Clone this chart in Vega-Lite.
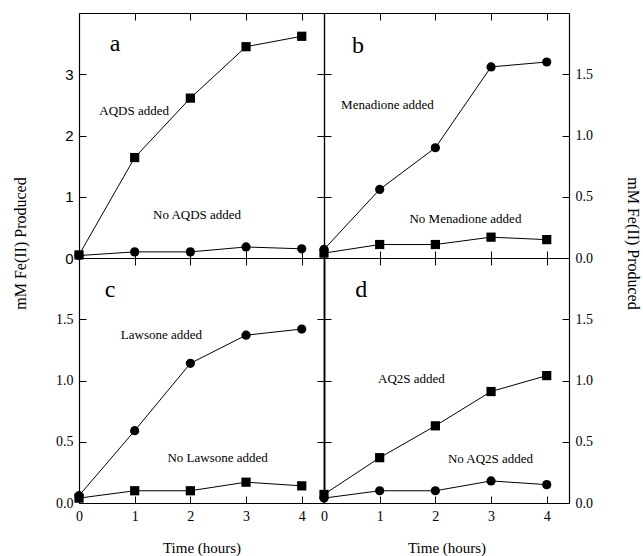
{
  "$schema": "https://vega.github.io/schema/vega-lite/v6.json",
  "background": "white",
  "padding": {"left": 12, "top": 12, "right": 5, "bottom": 5},
  "columns": 2,
  "spacing": 0,
  "bounds": "flush",
  "resolve": {"scale": {"shape": "independent"}},
  "config": {
    "view": {"stroke": null},
    "axis": {
      "grid": false,
      "domainColor": "black",
      "domainWidth": 1.2,
      "tickColor": "black",
      "tickWidth": 1,
      "tickSize": -7,
      "labelPadding": 13,
      "labelFont": "Liberation Serif",
      "labelFontSize": 14,
      "labelColor": "black",
      "labelFlush": false,
      "labelOverlap": false,
      "titleFont": "Liberation Serif",
      "titleFontWeight": "normal",
      "titleColor": "black",
      "titleFontSize": 16
    }
  },
  "datasets": {
    "pts": [
      {"panel": "a", "series": "AQDS added", "time": 0, "fe": 0.05},
      {"panel": "a", "series": "AQDS added", "time": 1, "fe": 1.64},
      {"panel": "a", "series": "AQDS added", "time": 2, "fe": 2.61},
      {"panel": "a", "series": "AQDS added", "time": 3, "fe": 3.45},
      {"panel": "a", "series": "AQDS added", "time": 4, "fe": 3.62},
      {"panel": "a", "series": "No AQDS added", "time": 0, "fe": 0.04},
      {"panel": "a", "series": "No AQDS added", "time": 1, "fe": 0.10},
      {"panel": "a", "series": "No AQDS added", "time": 2, "fe": 0.10},
      {"panel": "a", "series": "No AQDS added", "time": 3, "fe": 0.18},
      {"panel": "a", "series": "No AQDS added", "time": 4, "fe": 0.15},
      {"panel": "b", "series": "Menadione added", "time": 0, "fe": 0.07},
      {"panel": "b", "series": "Menadione added", "time": 1, "fe": 0.56},
      {"panel": "b", "series": "Menadione added", "time": 2, "fe": 0.90},
      {"panel": "b", "series": "Menadione added", "time": 3, "fe": 1.56},
      {"panel": "b", "series": "Menadione added", "time": 4, "fe": 1.60},
      {"panel": "b", "series": "No Menadione added", "time": 0, "fe": 0.04},
      {"panel": "b", "series": "No Menadione added", "time": 1, "fe": 0.11},
      {"panel": "b", "series": "No Menadione added", "time": 2, "fe": 0.11},
      {"panel": "b", "series": "No Menadione added", "time": 3, "fe": 0.17},
      {"panel": "b", "series": "No Menadione added", "time": 4, "fe": 0.15},
      {"panel": "c", "series": "Lawsone added", "time": 0, "fe": 0.06},
      {"panel": "c", "series": "Lawsone added", "time": 1, "fe": 0.59},
      {"panel": "c", "series": "Lawsone added", "time": 2, "fe": 1.14},
      {"panel": "c", "series": "Lawsone added", "time": 3, "fe": 1.37},
      {"panel": "c", "series": "Lawsone added", "time": 4, "fe": 1.42},
      {"panel": "c", "series": "No Lawsone added", "time": 0, "fe": 0.04},
      {"panel": "c", "series": "No Lawsone added", "time": 1, "fe": 0.10},
      {"panel": "c", "series": "No Lawsone added", "time": 2, "fe": 0.10},
      {"panel": "c", "series": "No Lawsone added", "time": 3, "fe": 0.17},
      {"panel": "c", "series": "No Lawsone added", "time": 4, "fe": 0.14},
      {"panel": "d", "series": "AQ2S added", "time": 0, "fe": 0.07},
      {"panel": "d", "series": "AQ2S added", "time": 1, "fe": 0.37},
      {"panel": "d", "series": "AQ2S added", "time": 2, "fe": 0.63},
      {"panel": "d", "series": "AQ2S added", "time": 3, "fe": 0.91},
      {"panel": "d", "series": "AQ2S added", "time": 4, "fe": 1.04},
      {"panel": "d", "series": "No AQ2S added", "time": 0, "fe": 0.04},
      {"panel": "d", "series": "No AQ2S added", "time": 1, "fe": 0.10},
      {"panel": "d", "series": "No AQ2S added", "time": 2, "fe": 0.10},
      {"panel": "d", "series": "No AQ2S added", "time": 3, "fe": 0.18},
      {"panel": "d", "series": "No AQ2S added", "time": 4, "fe": 0.15}
    ],
    "notes": [
      {"panel": "a", "kind": "letter", "label": "a", "time": 0.65, "fe": 3.49},
      {"panel": "a", "kind": "note", "label": "AQDS added", "time": 0.99, "fe": 2.40},
      {"panel": "a", "kind": "note", "label": "No AQDS added", "time": 2.12, "fe": 0.70},
      {"panel": "b", "kind": "letter", "label": "b", "time": 0.61, "fe": 1.73},
      {"panel": "b", "kind": "note", "label": "Menadione added", "time": 1.14, "fe": 1.25},
      {"panel": "b", "kind": "note", "label": "No Menadione added", "time": 2.54, "fe": 0.32},
      {"panel": "c", "kind": "letter", "label": "c", "time": 0.56, "fe": 1.74},
      {"panel": "c", "kind": "note", "label": "Lawsone added", "time": 1.48, "fe": 1.37},
      {"panel": "c", "kind": "note", "label": "No Lawsone added", "time": 2.49, "fe": 0.37},
      {"panel": "d", "kind": "letter", "label": "d", "time": 0.67, "fe": 1.74},
      {"panel": "d", "kind": "note", "label": "AQ2S added", "time": 1.57, "fe": 1.01},
      {"panel": "d", "kind": "note", "label": "No AQ2S added", "time": 2.99, "fe": 0.36}
    ]
  },
  "concat": [
    {
      "width": 245, "height": 245,
      "resolve": {"axis": {"x": "independent", "y": "independent"}},
      "layer": [
        {
          "data": {"name": "pts"},
          "transform": [{"filter": "datum.panel === 'a'"}],
          "mark": {"type": "line", "color": "black", "strokeWidth": 1},
          "encoding": {
            "x": {"field": "time", "type": "quantitative", "scale": {"domain": [0, 4.4], "nice": false},
                  "axis": {"orient": "bottom", "values": [0, 1, 2, 3, 4], "labels": false, "title": null}},
            "y": {"field": "fe", "type": "quantitative", "scale": {"domain": [0, 4], "nice": false},
                  "axis": {"orient": "left", "values": [0, 1, 2, 3], "labelFont": "Liberation Sans", "labelFontSize": 15,
                           "title": "mM Fe(II) Produced", "titleX": -59, "titleY": 230, "titleAngle": -90,
                           "titleBaseline": "middle", "titleAlign": "center"}},
            "detail": {"field": "series"}
          }
        },
        {
          "data": {"name": "pts"},
          "transform": [{"filter": "datum.panel === 'a'"}],
          "mark": {"type": "point", "filled": true, "color": "black", "opacity": 1, "size": 85},
          "encoding": {
            "x": {"field": "time", "type": "quantitative", "scale": {"domain": [0, 4.4], "nice": false},
                  "axis": {"orient": "top", "values": [0, 1, 2, 3, 4], "labels": false, "title": null}},
            "y": {"field": "fe", "type": "quantitative", "scale": {"domain": [0, 4], "nice": false},
                  "axis": {"orient": "right", "values": [0, 1, 2, 3, 4], "labels": false, "title": null}},
            "shape": {"field": "series", "scale": {"domain": ["AQDS added", "No AQDS added"], "range": ["square", "circle"]}, "legend": null}
          }
        },
        {
          "data": {"name": "notes"},
          "transform": [{"filter": "datum.panel === 'a' && datum.kind === 'note'"}],
          "mark": {"type": "text", "font": "Liberation Serif", "fontSize": 13, "color": "black"},
          "encoding": {
            "x": {"field": "time", "type": "quantitative", "axis": null},
            "y": {"field": "fe", "type": "quantitative", "axis": null},
            "text": {"field": "label"}
          }
        },
        {
          "data": {"name": "notes"},
          "transform": [{"filter": "datum.panel === 'a' && datum.kind === 'letter'"}],
          "mark": {"type": "text", "font": "Liberation Serif", "fontSize": 24, "color": "black"},
          "encoding": {
            "x": {"field": "time", "type": "quantitative", "axis": null},
            "y": {"field": "fe", "type": "quantitative", "axis": null},
            "text": {"field": "label"}
          }
        }
      ]
    },
    {
      "width": 245, "height": 245,
      "resolve": {"axis": {"x": "independent", "y": "independent"}},
      "layer": [
        {
          "data": {"name": "pts"},
          "transform": [{"filter": "datum.panel === 'b'"}],
          "mark": {"type": "line", "color": "black", "strokeWidth": 1},
          "encoding": {
            "x": {"field": "time", "type": "quantitative", "scale": {"domain": [0, 4.4], "nice": false},
                  "axis": {"orient": "bottom", "values": [0, 1, 2, 3, 4], "labels": false, "title": null}},
            "y": {"field": "fe", "type": "quantitative", "scale": {"domain": [0, 2], "nice": false},
                  "axis": {"orient": "left", "values": [0, 0.5, 1, 1.5], "labels": false, "title": null}},
            "detail": {"field": "series"}
          }
        },
        {
          "data": {"name": "pts"},
          "transform": [{"filter": "datum.panel === 'b'"}],
          "mark": {"type": "point", "filled": true, "color": "black", "opacity": 1, "size": 85},
          "encoding": {
            "x": {"field": "time", "type": "quantitative", "scale": {"domain": [0, 4.4], "nice": false},
                  "axis": {"orient": "top", "values": [0, 1, 2, 3, 4], "labels": false, "title": null}},
            "y": {"field": "fe", "type": "quantitative", "scale": {"domain": [0, 2], "nice": false},
                  "axis": {"orient": "right", "values": [0, 0.5, 1, 1.5], "format": ".1f",
                           "title": "mM Fe(II) Produced", "titleX": 63, "titleY": 230, "titleAngle": 90,
                           "titleBaseline": "middle", "titleAlign": "center"}},
            "shape": {"field": "series", "scale": {"domain": ["Menadione added", "No Menadione added"], "range": ["circle", "square"]}, "legend": null}
          }
        },
        {
          "data": {"name": "notes"},
          "transform": [{"filter": "datum.panel === 'b' && datum.kind === 'note'"}],
          "mark": {"type": "text", "font": "Liberation Serif", "fontSize": 13, "color": "black"},
          "encoding": {
            "x": {"field": "time", "type": "quantitative", "axis": null},
            "y": {"field": "fe", "type": "quantitative", "axis": null},
            "text": {"field": "label"}
          }
        },
        {
          "data": {"name": "notes"},
          "transform": [{"filter": "datum.panel === 'b' && datum.kind === 'letter'"}],
          "mark": {"type": "text", "font": "Liberation Serif", "fontSize": 24, "color": "black"},
          "encoding": {
            "x": {"field": "time", "type": "quantitative", "axis": null},
            "y": {"field": "fe", "type": "quantitative", "axis": null},
            "text": {"field": "label"}
          }
        }
      ]
    },
    {
      "width": 245, "height": 245,
      "resolve": {"axis": {"x": "independent", "y": "independent"}},
      "layer": [
        {
          "data": {"name": "pts"},
          "transform": [{"filter": "datum.panel === 'c'"}],
          "mark": {"type": "line", "color": "black", "strokeWidth": 1},
          "encoding": {
            "x": {"field": "time", "type": "quantitative", "scale": {"domain": [0, 4.4], "nice": false},
                  "axis": {"orient": "bottom", "values": [0, 1, 2, 3, 4],
                           "title": "Time (hours)", "titleFontSize": 15, "titleX": 122.5, "titleY": 44, "titleBaseline": "middle"}},
            "y": {"field": "fe", "type": "quantitative", "scale": {"domain": [0, 2], "nice": false},
                  "axis": {"orient": "left", "values": [0, 0.5, 1, 1.5], "format": ".1f", "title": null}},
            "detail": {"field": "series"}
          }
        },
        {
          "data": {"name": "pts"},
          "transform": [{"filter": "datum.panel === 'c'"}],
          "mark": {"type": "point", "filled": true, "color": "black", "opacity": 1, "size": 85},
          "encoding": {
            "x": {"field": "time", "type": "quantitative", "scale": {"domain": [0, 4.4], "nice": false},
                  "axis": {"orient": "top", "values": [0, 1, 2, 3, 4], "labels": false, "title": null}},
            "y": {"field": "fe", "type": "quantitative", "scale": {"domain": [0, 2], "nice": false},
                  "axis": {"orient": "right", "values": [0, 0.5, 1, 1.5], "labels": false, "title": null}},
            "shape": {"field": "series", "scale": {"domain": ["Lawsone added", "No Lawsone added"], "range": ["circle", "square"]}, "legend": null}
          }
        },
        {
          "data": {"name": "notes"},
          "transform": [{"filter": "datum.panel === 'c' && datum.kind === 'note'"}],
          "mark": {"type": "text", "font": "Liberation Serif", "fontSize": 13, "color": "black"},
          "encoding": {
            "x": {"field": "time", "type": "quantitative", "axis": null},
            "y": {"field": "fe", "type": "quantitative", "axis": null},
            "text": {"field": "label"}
          }
        },
        {
          "data": {"name": "notes"},
          "transform": [{"filter": "datum.panel === 'c' && datum.kind === 'letter'"}],
          "mark": {"type": "text", "font": "Liberation Serif", "fontSize": 24, "color": "black"},
          "encoding": {
            "x": {"field": "time", "type": "quantitative", "axis": null},
            "y": {"field": "fe", "type": "quantitative", "axis": null},
            "text": {"field": "label"}
          }
        }
      ]
    },
    {
      "width": 245, "height": 245,
      "resolve": {"axis": {"x": "independent", "y": "independent"}},
      "layer": [
        {
          "data": {"name": "pts"},
          "transform": [{"filter": "datum.panel === 'd'"}],
          "mark": {"type": "line", "color": "black", "strokeWidth": 1},
          "encoding": {
            "x": {"field": "time", "type": "quantitative", "scale": {"domain": [0, 4.4], "nice": false},
                  "axis": {"orient": "bottom", "values": [0, 1, 2, 3, 4],
                           "title": "Time (hours)", "titleFontSize": 15, "titleX": 122.5, "titleY": 44, "titleBaseline": "middle"}},
            "y": {"field": "fe", "type": "quantitative", "scale": {"domain": [0, 2], "nice": false},
                  "axis": {"orient": "left", "values": [0, 0.5, 1, 1.5], "labels": false, "title": null, "domainWidth": 1.8}},
            "detail": {"field": "series"}
          }
        },
        {
          "data": {"name": "pts"},
          "transform": [{"filter": "datum.panel === 'd'"}],
          "mark": {"type": "point", "filled": true, "color": "black", "opacity": 1, "size": 85},
          "encoding": {
            "x": {"field": "time", "type": "quantitative", "scale": {"domain": [0, 4.4], "nice": false},
                  "axis": {"orient": "top", "values": [0, 1, 2, 3, 4], "labels": false, "title": null}},
            "y": {"field": "fe", "type": "quantitative", "scale": {"domain": [0, 2], "nice": false},
                  "axis": {"orient": "right", "values": [0, 0.5, 1, 1.5], "format": ".1f", "title": null}},
            "shape": {"field": "series", "scale": {"domain": ["AQ2S added", "No AQ2S added"], "range": ["square", "circle"]}, "legend": null}
          }
        },
        {
          "data": {"name": "notes"},
          "transform": [{"filter": "datum.panel === 'd' && datum.kind === 'note'"}],
          "mark": {"type": "text", "font": "Liberation Serif", "fontSize": 13, "color": "black"},
          "encoding": {
            "x": {"field": "time", "type": "quantitative", "axis": null},
            "y": {"field": "fe", "type": "quantitative", "axis": null},
            "text": {"field": "label"}
          }
        },
        {
          "data": {"name": "notes"},
          "transform": [{"filter": "datum.panel === 'd' && datum.kind === 'letter'"}],
          "mark": {"type": "text", "font": "Liberation Serif", "fontSize": 24, "color": "black"},
          "encoding": {
            "x": {"field": "time", "type": "quantitative", "axis": null},
            "y": {"field": "fe", "type": "quantitative", "axis": null},
            "text": {"field": "label"}
          }
        }
      ]
    }
  ]
}
